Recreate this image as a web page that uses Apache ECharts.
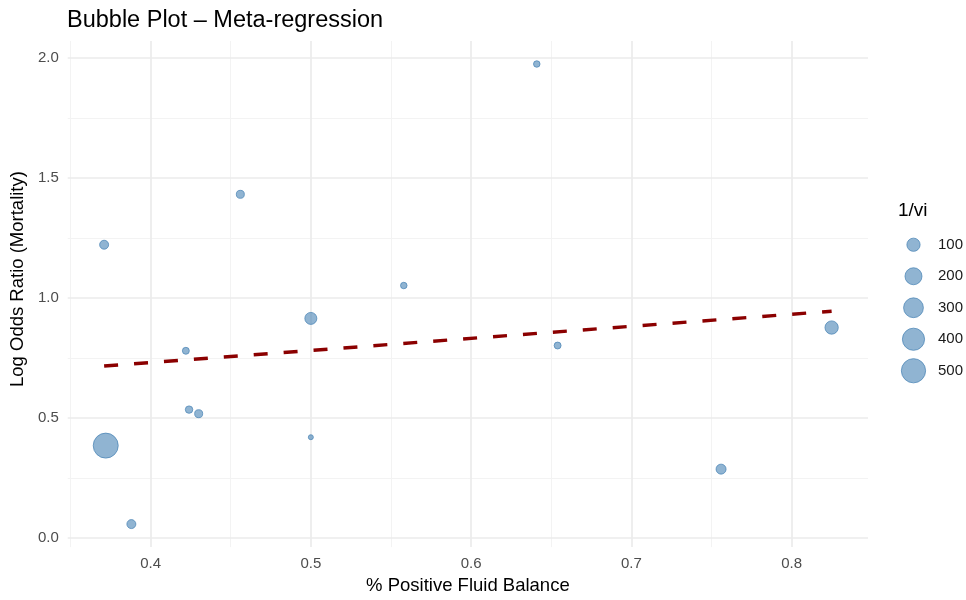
<!DOCTYPE html>
<html>
<head>
<meta charset="utf-8">
<script src="https://cdn.jsdelivr.net/npm/echarts@6/dist/echarts.min.js"></script>
<style>html,body{margin:0;padding:0;background:#fff}#c{width:966px;height:600px}</style>
</head>
<body>
<div id="c"></div>
<script>
// ---- data ----
const fluidBalance = [0.371, 0.456, 0.641, 0.558, 0.500, 0.422, 0.654, 0.825, 0.424, 0.430, 0.372, 0.500, 0.388, 0.756];
const logOR        = [1.222, 1.432, 1.975, 1.052, 0.915, 0.780, 0.802, 0.877, 0.535, 0.518, 0.385, 0.420, 0.058, 0.287];
const weights      = [31, 22, 13, 13, 75, 15, 15, 101, 18, 22, 540, 10, 31, 43];
const fitX = [0.371, 0.825];
const fitY = [0.717, 0.945];
const xTicks = [0.4, 0.5, 0.6, 0.7, 0.8];
const xMinor = [0.35, 0.45, 0.55, 0.65, 0.75];
const yTicks = [0.0, 0.5, 1.0, 1.5, 2.0];
const yMinor = [0.25, 0.75, 1.25, 1.75];
const legendValues = [100, 200, 300, 400, 500];

// ---- scales ----
const FONT = '"Liberation Sans", Arial, sans-serif';
const xmin = Math.min(...fluidBalance), xmax = Math.max(...fluidBalance);
const ymin = Math.min(...logOR), ymax = Math.max(...logOR);
const xr = xmax - xmin, yr = ymax - ymin;
const wMin = Math.min(...weights), wMax = Math.max(...weights);
function sizeOf(w) {
  const t = Math.max(0, (w - wMin) / (wMax - wMin));
  return 5 + 20 * Math.sqrt(t);
}
const fillCol = 'rgba(70,130,180,0.6)';
const edgeCol = 'rgba(70,130,180,0.72)';

const majorStyle = {color: '#EBEBEB', width: 1.7, type: 'solid'};
const minorStyle = {color: '#F3F3F3', width: 1, type: 'solid'};
const gridLines = []
  .concat(xMinor.map(v => ({xAxis: v, lineStyle: minorStyle})))
  .concat(yMinor.map(v => ({yAxis: v, lineStyle: minorStyle})))
  .concat(xTicks.map(v => ({xAxis: v, lineStyle: majorStyle})))
  .concat(yTicks.map(v => ({yAxis: v, lineStyle: majorStyle})));

const chart = echarts.init(document.getElementById('c'), null, {renderer: 'canvas'});
chart.setOption({
  animation: false,
  backgroundColor: '#ffffff',
  textStyle: {fontFamily: FONT},
  title: [
    {text: 'Bubble Plot \u2013 Meta-regression', left: 67, top: 9, padding: 0,
     textStyle: {fontFamily: FONT, fontSize: 23.5, fontWeight: 'normal', color: '#000'}},
    {text: '1/vi', left: 898, top: 201, padding: 0,
     textStyle: {fontFamily: FONT, fontSize: 19, fontWeight: 'normal', color: '#000'}}
  ],
  grid: [
    {left: 67, right: 98, top: 41, bottom: 52, containLabel: false},
    {left: 901, top: 229, width: 28, height: 157.5, containLabel: false}
  ],
  xAxis: [
    {type: 'value', gridIndex: 0, min: xmin - 0.05 * xr, max: xmax + 0.05 * xr,
     name: '% Positive Fluid Balance', nameLocation: 'middle', nameGap: 24,
     nameTextStyle: {fontFamily: FONT, fontSize: 18.5, color: '#000', verticalAlign: 'top'},
     axisLine: {show: false}, axisTick: {show: false}, splitLine: {show: false},
     axisLabel: {customValues: xTicks, formatter: v => v.toFixed(1), margin: 9,
       fontFamily: FONT, fontSize: 15, color: '#4D4D4D'}},
    {type: 'category', gridIndex: 1, data: ['key'], show: false}
  ],
  yAxis: [
    {type: 'value', gridIndex: 0, min: ymin - 0.05 * yr, max: ymax + 0.05 * yr,
     name: 'Log Odds Ratio (Mortality)', nameLocation: 'middle', nameGap: 32, nameRotate: 90,
     nameTextStyle: {fontFamily: FONT, fontSize: 18.5, color: '#000', padding: [0, 0, 0, 30]},
     axisLine: {show: false}, axisTick: {show: false}, splitLine: {show: false},
     axisLabel: {customValues: yTicks, formatter: v => v.toFixed(1), margin: 9,
       fontFamily: FONT, fontSize: 15, color: '#4D4D4D'}},
    {type: 'category', gridIndex: 1, data: legendValues.map(String), inverse: true, position: 'right',
     axisLine: {show: false}, axisTick: {show: false}, splitLine: {show: false},
     axisLabel: {margin: 12, fontFamily: FONT, fontSize: 15, color: '#1A1A1A'}}
  ],
  series: [
    {type: 'line', xAxisIndex: 0, yAxisIndex: 0, data: [], z: 0, silent: true,
     markLine: {silent: true, symbol: ['none', 'none'], label: {show: false}, animation: false,
       emphasis: {disabled: true}, z: 0, data: gridLines}},
    {type: 'scatter', xAxisIndex: 0, yAxisIndex: 0, z: 3,
     data: fluidBalance.map((x, i) => [x, logOR[i], weights[i]]),
     symbolSize: d => sizeOf(d[2]),
     itemStyle: {color: fillCol, borderColor: edgeCol, borderWidth: 1, opacity: 1}},
    {type: 'line', xAxisIndex: 0, yAxisIndex: 0, z: 4,
     data: fitX.map((x, i) => [x, fitY[i]]), showSymbol: false, symbol: 'none',
     lineStyle: {color: '#8B0000', width: 3.5, type: [14, 16], cap: 'butt'}},
    {type: 'scatter', xAxisIndex: 1, yAxisIndex: 1, z: 3,
     data: legendValues.map(v => ['key', String(v), v]),
     symbolSize: d => sizeOf(d[2]),
     itemStyle: {color: fillCol, borderColor: edgeCol, borderWidth: 1, opacity: 1}}
  ]
});
</script>
</body>
</html>
